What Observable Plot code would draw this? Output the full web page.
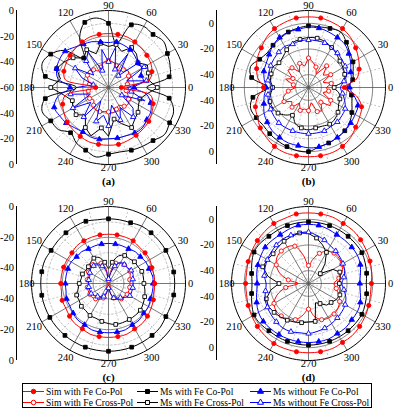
<!DOCTYPE html>
<html><head><meta charset="utf-8">
<script src="https://cdn.jsdelivr.net/npm/d3@7"></script>
<script src="https://cdn.jsdelivr.net/npm/@observablehq/plot@0.6"></script>
<style>
body{margin:0;background:#fff;font-family:"Liberation Serif","Times New Roman","DejaVu Serif",serif;}
#wrap{position:relative;width:396px;height:411px;overflow:hidden;}
.pn{position:absolute;}
#legend{position:absolute;left:22px;top:383px;width:350px;height:25px;border:1px solid #000;box-sizing:border-box;}
.le{position:absolute;display:flex;align-items:center;font-family:"Liberation Serif","Times New Roman","DejaVu Serif",serif;font-size:9.6px;white-space:nowrap;height:11px;color:#000;}
.le svg{margin-right:2px;}
</style></head>
<body><div id="wrap"></div>
<script>
// angles (degrees)
const angles = [0,10,20,30,40,50,60,70,80,90,100,110,120,130,140,150,160,170,180,190,200,210,220,230,240,250,260,270,280,290,300,310,320,330,340,350];

// ---- panel (a) values, dB ----
const a_simCo = [-50,-28,-24,-22,-21,-20,-19,-18,-18,-18,-18,-18,-19,-20,-21,-22,-23,-26,-50,-26,-22,-20,-18,-17,-16,-15,-15,-15,-15,-16,-17,-18,-19,-21,-23,-27];
const a_msCo  = [-30,-12,-9,-7,-4,-6,-5,-8,-25,-10,-5,-6,-15,-30,-15,-8,-5,-10,-35,-10,-5,-8,-9,-14,-10,-8,-5,-8,-9,-8,-7,-6,-3,-5,-6,-12];
const a_noCo  = [-40,-32,-33,-30,-30,-28,-26,-25,-24,-25,-24,-22,-21,-19,-16,-16,-17,-20,-30,-20,-15,-16,-17,-19,-20,-19,-19,-20,-20,-20,-19,-19,-21,-22,-25,-30];
const a_simX  = [-48,-45,-44,-42,-40,-42,-45,-42,-40,-39,-40,-43,-45,-42,-40,-41,-43,-45,-47,-44,-42,-43,-45,-42,-40,-40,-41,-41,-40,-42,-44,-41,-40,-42,-44,-46];
const a_msX   = [-22,-28,-27,-25,-30,-26,-24,-30,-26,-28,-25,-32,-26,-30,-24,-20,-17,-22,-15,-25,-30,-28,-27,-32,-24,-20,-28,-22,-35,-30,-24,-28,-30,-33,-34,-30];
const a_noX   = [-45,-30,-45,-28,-32,-48,-30,-45,-28,-40,-30,-46,-28,-33,-45,-30,-38,-48,-35,-30,-45,-28,-42,-30,-48,-32,-38,-30,-46,-33,-42,-30,-35,-48,-30,-42];

// ---- panel (b) ----
const b_simCo = [-22,-12,-8,-5,-2,1,3,4,5,5,5,4,3,1,-2,-4,-7,-10,-15,-10,-6,-4,-1,1,3,4,4,4,4,4,3,1,-2,-4,-6,-12];
const b_msCo  = [-20,-15,-13,-10,-8,-4,0,-1,-2,-2,-3,-4,-6,-7,-8,-6,-2,-5,-18,-6,-2,-3,-4,-3,-2,-1,0,0,-3,-4,-5,-6,-8,-11,-14,-16];
const b_noCo  = [-18,-16,-15,-12,-9,-6,-5,-4,-3,-3,-4,-4,-5,-7,-10,-12,-13,-15,-17,-15,-13,-10,-8,-6,-5,-4,-4,-3,-3,-4,-5,-6,-7,-8,-9,-14];
const b_simX  = [-36,-32,-38,-30,-35,-28,-38,-33,-30,-27,-33,-30,-36,-30,-29,-36,-31,-38,-40,-34,-29,-28,-33,-30,-36,-31,-33,-32,-38,-30,-29,-35,-28,-30,-38,-34];
const b_msX   = [-30,-22,-20,-19,-18,-16,-14,-12,-11,-11,-12,-13,-16,-19,-20,-18,-19,-20,-22,-20,-18,-18,-19,-22,-25,-20,-18,-17,-18,-18,-17,-18,-20,-23,-24,-26];
const b_noX   = [-25,-22,-18,-17,-16,-15,-14,-13,-13,-13,-13,-14,-13,-14,-15,-16,-17,-18,-22,-18,-17,-16,-15,-14,-14,-14,-14,-14,-14,-14,-15,-15,-16,-17,-20,-23];

// ---- panel (c) ----
const c_simCo = [-20,-20,-20,-19,-19,-19,-18,-18,-18,-18,-18,-18,-18,-18,-19,-19,-19,-19,-19,-19,-18,-18,-17,-16,-16,-15,-15,-15,-15,-15,-16,-16,-17,-18,-19,-20];
const c_msCo  = [-7,-7,-7,-7,-7,-7,-7,-8,-8,-8,-8,-7,-7,-7,-7,-7,-6,-6,-6,-6,-6,-6,-6,-6,-6,-6,-6,-6,-6,-6,-6,-6,-6,-7,-7,-7];
const c_noCo  = [-21,-21,-22,-22,-23,-23,-24,-24,-24,-24,-24,-24,-24,-23,-23,-22,-22,-22,-22,-22,-21,-21,-20,-19,-19,-18,-18,-18,-18,-18,-19,-19,-20,-20,-21,-21];
const c_simX  = [-36,-36,-35,-34,-34,-34,-35,-36,-42,-48,-40,-36,-35,-34,-34,-35,-36,-36,-37,-36,-36,-36,-36,-37,-38,-40,-44,-48,-44,-40,-38,-37,-37,-36,-36,-36];
const c_msX   = [-27,-27,-27,-28,-28,-29,-29,-31,-36,-40,-36,-32,-31,-32,-33,-33,-32,-32,-31,-30,-28,-28,-27,-27,-26,-26,-25,-24,-23,-23,-23,-23,-23,-24,-25,-26];
const c_noX   = [-34,-34,-33,-33,-34,-34,-34,-38,-44,-47,-42,-38,-36,-35,-35,-36,-37,-37,-37,-37,-37,-37,-38,-39,-40,-41,-45,-47,-44,-40,-39,-38,-36,-34,-34,-34];

// ---- panel (d) ----
const d_simCo = [-1,0,1,2,3,4,4,5,5,5,5,4,4,3,2,1,0,-1,-1,-1,0,1,2,3,4,4,4,4,4,4,3,3,2,1,0,-1];
const d_msCo  = [-5,-4,-3,-2,-2,-2,-2,-2,-2,-2,-2,-2,-2,-2,-1,-1,-3,-5,-6,-5,-3,-1,-1,-2,-2,-2,-2,-2,-2,-2,-2,-2,-2,-2,-3,-4];
const d_noCo  = [-10,-9,-7,-6,-6,-6,-6,-5,-4,-4,-4,-5,-6,-6,-6,-7,-8,-9,-10,-9,-7,-5,-4,-4,-4,-4,-4,-4,-4,-4,-5,-5,-6,-6,-7,-9];
const d_simX  = [-30,-26,-22,-20,-19,-19,-21,-25,-31,-36,-28,-19,-17,-17,-18,-21,-26,-34,-42,-32,-24,-19,-17,-17,-18,-20,-25,-30,-24,-20,-19,-19,-20,-22,-25,-28];
const d_msX   = [-26,-25,-24,-28,-38,-30,-22,-18,-14,-11,-10,-11,-12,-13,-14,-13,-12,-18,-27,-20,-15,-14,-15,-16,-17,-18,-19,-20,-20,-34,-32,-28,-27,-25,-24,-25];
const d_noX   = [-24,-22,-20,-19,-18,-17,-16,-14,-12,-10,-10,-10,-10,-11,-12,-13,-14,-15,-17,-16,-14,-13,-12,-11,-10,-10,-11,-11,-12,-13,-14,-15,-16,-17,-19,-22];

// tick labels
const angleTicks = [0,30,60,90,120,150,180,210,240,270,300,330];
const radialTicksA = [0,-20,-40,-60];
const radialTicksBD = [0,-20,-40];
const radialTicksC = [0,-20,-40];
const panelLabels = ["(a)","(b)","(c)","(d)"];
const legendNames = ["Sim with Fe Co-Pol","Ms with Fe Co-Pol","Ms without Fe Co-Pol","Sim with Fe Cross-Pol","Ms with Fe Cross-Pol","Ms without Fe Cross-Pol"];

const FONT = "'Liberation Serif', 'Times New Roman', 'DejaVu Serif', serif";
const styles = {
  simCo:{color:"#ff0000",symbol:"circle",filled:true,off:0},
  msCo:{color:"#000000",symbol:"square",filled:true,off:1},
  noCo:{color:"#0000ff",symbol:"triangle",filled:true,off:0},
  simX:{color:"#ff0000",symbol:"circle",filled:false,off:1},
  msX:{color:"#000000",symbol:"square",filled:false,off:0},
  noX:{color:"#0000ff",symbol:"triangle",filled:false,off:1}
};
const order = ["simX","msX","noX","msCo","noCo","simCo"];

const panels = [
  {left:0,top:0,min:-60,max:0,ticks:radialTicksA,label:panelLabels[0],spiky:["noX","msX"],
   s:{simCo:a_simCo,msCo:a_msCo,noCo:a_noCo,simX:a_simX,msX:a_msX,noX:a_noX}},
  {left:200,top:0,min:-50,max:10,ticks:radialTicksBD,label:panelLabels[1],spiky:["simX"],
   s:{simCo:b_simCo,msCo:b_msCo,noCo:b_noCo,simX:b_simX,msX:b_msX,noX:b_noX}},
  {left:0,top:196,min:-50,max:0,ticks:radialTicksC,label:panelLabels[2],spiky:[],
   s:{simCo:c_simCo,msCo:c_msCo,noCo:c_noCo,simX:c_simX,msX:c_msX,noX:c_noX}},
  {left:200,top:196,min:-50,max:10,ticks:radialTicksBD,label:panelLabels[3],spiky:["msX"],
   s:{simCo:d_simCo,msCo:d_msCo,noCo:d_noCo,simX:d_simX,msX:d_msX,noX:d_noX}}
];

const R = 77, W = 196, H = 196, CX = 108, CY = 87;
const rad = a => a * Math.PI / 180;

function makePanel(p) {
  const norm = v => Math.max(0, (v - p.min) / (p.max - p.min));
  const circle = r => d3.range(0, 361, 3).map(a => ({x: r*Math.cos(rad(a)), y: r*Math.sin(rad(a))}));
  const marks = [];
  for (let v = p.min + 10; v < p.max; v += 10) {
    const major = p.ticks.includes(v);
    marks.push(Plot.line(circle(norm(v)), {x:"x", y:"y", stroke: major ? "#666" : "#aaa",
      strokeWidth: major ? 0.8 : 0.7, strokeDasharray: major ? null : "2,2"}));
  }
  const spokes = d3.range(0, 360, 15).map(a => ({a, x2: Math.cos(rad(a)), y2: Math.sin(rad(a))}));
  marks.push(Plot.link(spokes.filter(d => d.a % 30 !== 0), {x1:0, y1:0, x2:"x2", y2:"y2", stroke:"#aaa", strokeWidth:0.7, strokeDasharray:"2,2"}));
  marks.push(Plot.link(spokes.filter(d => d.a % 30 === 0), {x1:0, y1:0, x2:"x2", y2:"y2", stroke:"#555", strokeWidth:0.8}));
  marks.push(Plot.line(circle(1), {x:"x", y:"y", stroke:"#000", strokeWidth:1}));
  for (const key of order) {
    const st = styles[key];
    const vals = p.s[key];
    const rows = angles.map((a, i) => ({i, x: norm(vals[i]) * Math.cos(rad(a)), y: norm(vals[i]) * Math.sin(rad(a))}));
    marks.push(Plot.line(rows, {x:"x", y:"y", stroke: st.color, strokeWidth: 1,
      curve: p.spiky.includes(key) ? "linear-closed" : "catmull-rom-closed"}));
    marks.push(Plot.dot(rows.filter(d => d.i % 2 === st.off), {x:"x", y:"y", symbol: st.symbol,
      r: st.symbol === "circle" ? 2.1 : st.symbol === "square" ? 2.1 : 2.0,
      fill: st.filled ? st.color : "#fff", stroke: st.color, strokeWidth: 0.9}));
  }
  marks.push(Plot.text(angleTicks, {
    x: a => (a % 90 === 0 ? 82 : 86) / R * Math.cos(rad(a)),
    y: a => (a % 90 === 0 ? (a === 270 ? 80 : 82) : 86) / R * Math.sin(rad(a)),
    text: a => String(a), fontSize: 10.5, fontFamily: FONT, fill:"#000"}));
  const ax = -92 / R;
  marks.push(Plot.ruleX([ax], {y1: -1, y2: 1, stroke:"#000", strokeWidth: 1}));
  const tl = p.ticks.flatMap(v => { const r = norm(v); return r === 0 ? [{v, y:0}] : [{v, y:r}, {v, y:-r}]; });
  marks.push(Plot.text(tl, {x: () => -94.5 / R, y: "y", text: d => String(d.v), textAnchor:"end", fontSize: 10.5, fontFamily: FONT, fill:"#000"}));
  marks.push(Plot.text([p.label], {x: () => 0, y: () => -94 / R, text: d => d, fontSize: 11, fontWeight:"bold", fontFamily: FONT, fill:"#000"}));

  const svg = Plot.plot({
    width: W, height: H, margin: 0,
    x: {domain: [-CX / R, (W - CX) / R], axis: null},
    y: {domain: [-(H - CY) / R, CY / R], axis: null},
    style: "font-family: 'Liberation Serif', 'Times New Roman', serif; background: transparent; overflow: visible;",
    marks
  });
  svg.classList.add("pn");
  svg.style.left = p.left + "px";
  svg.style.top = p.top + "px";
  return svg;
}

const wrap = document.getElementById("wrap");
for (const p of panels) wrap.appendChild(makePanel(p));

const leg = document.createElement("div");
leg.id = "legend";
const keysLegend = ["simCo","msCo","noCo","simX","msX","noX"];
const colX = [0, 114, 227];
keysLegend.forEach((k, i) => {
  const st = styles[k];
  const e = document.createElement("div");
  e.className = "le";
  e.style.left = colX[i % 3] + "px";
  e.style.top = (i < 3 ? 2 : 13) + "px";
  const sym = d3.symbol(st.symbol === "circle" ? d3.symbolCircle : st.symbol === "square" ? d3.symbolSquare : d3.symbolTriangle, st.symbol === "circle" ? 16 : 16)();
  e.innerHTML = `<svg width="21" height="9"><line x1="0" y1="4.5" x2="21" y2="4.5" stroke="${st.color}" stroke-width="1"/>` +
    `<path d="${sym}" transform="translate(10.5,4.5)" fill="${st.filled ? st.color : "#fff"}" stroke="${st.color}"/></svg>` +
    `<span>${legendNames[i]}</span>`;
  leg.appendChild(e);
});
wrap.appendChild(leg);
</script>
</body></html>
